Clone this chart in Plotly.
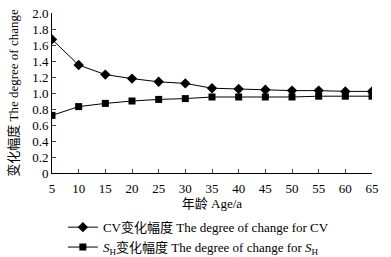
import plotly.graph_objects as go

ages = [5, 10, 15, 20, 25, 30, 35, 40, 45, 50, 55, 60, 65]
cv_change = [1.67, 1.35, 1.23, 1.18, 1.14, 1.12, 1.06, 1.05, 1.04, 1.03, 1.03, 1.02, 1.02]
sh_change = [0.72, 0.83, 0.87, 0.90, 0.92, 0.93, 0.95, 0.95, 0.95, 0.95, 0.96, 0.96, 0.96]
y_ticks = [0, 0.2, 0.4, 0.6, 0.8, 1.0, 1.2, 1.4, 1.6, 1.8, 2.0]
y_ticktext = ["0", "0.2", "0.4", "0.6", "0.8", "1.0", "1.2", "1.4", "1.6", "1.8", "2.0"]
x_ticks = ages

font_family = "Liberation Serif, Noto Sans CJK SC, serif"

fig = go.Figure()
fig.add_trace(go.Scatter(
    x=ages, y=cv_change, mode="lines+markers",
    name="CV变化幅度 The degree of change for CV",
    line=dict(color="black", width=1),
    marker=dict(symbol="diamond", size=8, color="black"),
))
fig.add_trace(go.Scatter(
    x=ages, y=sh_change, mode="lines+markers",
    name="<i>S</i><sub>H</sub>变化幅度 The degree of change for <i>S</i><sub>H</sub>",
    line=dict(color="black", width=1),
    marker=dict(symbol="square", size=7, color="black"),
))

fig.update_layout(
    template="none",
    width=391, height=257,
    margin=dict(l=52, r=19, t=13, b=84, autoexpand=False),
    paper_bgcolor="white", plot_bgcolor="white",
    font=dict(family=font_family, size=13, color="black"),
    showlegend=True,
    legend=dict(
        orientation="v", x=0.034, y=-0.245, xanchor="left", yanchor="top",
        font=dict(size=13), tracegroupgap=0, itemwidth=30,
        bgcolor="rgba(0,0,0,0)",
    ),
    xaxis=dict(
        range=[5, 65], tickvals=x_ticks, ticks="inside", ticklen=4,
        showline=True, linecolor="black", linewidth=1, showgrid=False,
        zeroline=False, tickfont=dict(size=13), automargin=False,
        ticklabelstandoff=3, ticklabeloverflow="allow",
        title=dict(text="年龄 Age/a", font=dict(size=13), standoff=0),
    ),
    yaxis=dict(
        range=[0, 2.0], tickvals=y_ticks, ticktext=y_ticktext,
        ticks="inside", ticklen=4,
        showline=True, linecolor="black", linewidth=1, showgrid=False,
        zeroline=False, tickfont=dict(size=13), automargin=False,
        ticklabeloverflow="allow",
        title=dict(text="变化幅度 The degree of change", font=dict(size=13), standoff=10),
    ),
)

fig.write_html(
    "out.html",
    config={"displayModeBar": False},
    post_script="document.body.style.margin='0';",
)
